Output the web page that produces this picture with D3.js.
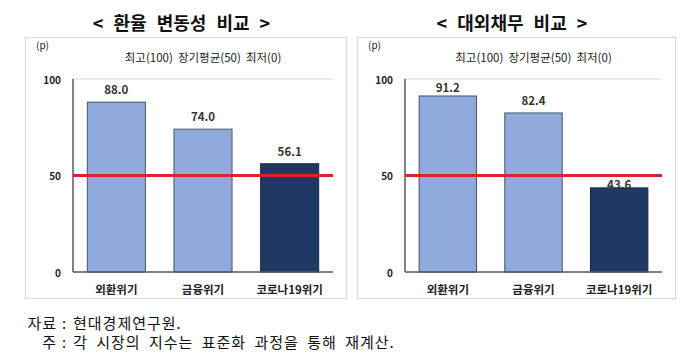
<!DOCTYPE html>
<html>
<head>
<meta charset="utf-8">
<script src="https://cdn.jsdelivr.net/npm/d3@7"></script>
<style>
  body { margin: 0; background: #fff; }
  svg text { font-family: "Noto Sans CJK KR", "Noto Sans", sans-serif; }
</style>
</head>
<body>
<div id="chart"></div>
<script>
const categories = ['외환위기', '금융위기', '코로나19위기'];
const fxVolatility = [88.0, 74.0, 56.1];
const externalDebt = [91.2, 82.4, 43.6];
const yTicks = [0, 50, 100];
const panelTitles = ['< 환율 변동성 비교 >', '< 대외채무 비교 >'];
const legendText = '최고(100)  장기평균(50)  최저(0)';
const noteHeads = ['자료', '주'];
const noteBodies = ['현대경제연구원.', '각 시장의 지수는 표준화 과정을 통해 재계산.'];

const W = 700, H = 362;
const svg = d3.select('#chart').append('svg')
    .attr('width', W)
    .attr('height', H);

function drawPanel(box, plot, title, values) {
  const g = svg.append('g');

  g.append('rect')
      .attr('x', box.x + 0.5).attr('y', box.y + 0.5)
      .attr('width', box.w).attr('height', box.h)
      .attr('fill', '#fff')
      .attr('stroke', '#d9d9d9');

  g.append('text')
      .attr('x', box.x + box.w / 2 - 4)
      .attr('y', 22)
      .attr('text-anchor', 'middle')
      .attr('dominant-baseline', 'central')
      .attr('font-size', 18)
      .attr('font-weight', 'bold')
      .attr('fill', '#111')
      .style('word-spacing', '6px')
      .text(title);

  let x = d3.scaleBand()
      .domain(categories)
      .range([plot.x0, plot.x1])
      .paddingInner(0.33)
      .paddingOuter(0.165);

  let y = d3.scaleLinear()
      .domain([0, 100])
      .range([plot.y0, plot.y1]);

  // gridline at top
  g.append('line')
      .attr('x1', plot.x0).attr('x2', plot.x1)
      .attr('y1', y(100)).attr('y2', y(100))
      .attr('stroke', '#d9d9d9');

  g.append('text')
      .attr('x', box.x + 11)
      .attr('y', box.y + 7)
      .attr('dominant-baseline', 'central')
      .attr('font-size', 10)
      .attr('fill', '#222')
      .text('(p)');

  g.append('text')
      .attr('x', (plot.x0 + plot.x1) / 2)
      .attr('y', 57)
      .attr('text-anchor', 'middle')
      .attr('dominant-baseline', 'central')
      .attr('font-size', 11.5)
      .attr('fill', '#222')
      .attr('xml:space', 'preserve')
      .text(legendText);

  g.append('g')
      .attr('transform', 'translate(' + (plot.x0 - 12) + ',0)')
      .selectAll('text')
      .data(yTicks)
      .enter().append('text')
        .attr('y', function(d) { return y(d); })
        .attr('text-anchor', 'end')
        .attr('dominant-baseline', 'central')
        .attr('font-size', 10)
        .attr('font-weight', 'bold')
        .attr('fill', '#222')
        .text(function(d) { return d; });

  g.selectAll('rect.bar')
      .data(values)
      .enter().append('rect')
        .attr('class', 'bar')
        .attr('x', function(d, i) { return x(categories[i]); })
        .attr('y', function(d) { return y(d); })
        .attr('width', x.bandwidth())
        .attr('height', function(d) { return y(0) - y(d); })
        .attr('fill', function(d, i) { return i === 2 ? '#203864' : '#8faadc'; })
        .attr('stroke', function(d, i) { return i === 2 ? '#17284a' : '#44546a'; })
        .attr('stroke-width', 1);

  // axes lines
  g.append('line')
      .attr('x1', plot.x0).attr('x2', plot.x0)
      .attr('y1', y(0)).attr('y2', y(100))
      .attr('stroke', '#595959').attr('stroke-width', 1.5);
  g.append('line')
      .attr('x1', plot.x0).attr('x2', plot.x1)
      .attr('y1', y(0)).attr('y2', y(0))
      .attr('stroke', '#595959').attr('stroke-width', 1.5);

  // long-term average line
  g.append('line')
      .attr('x1', plot.x0).attr('x2', plot.x1)
      .attr('y1', y(50)).attr('y2', y(50))
      .attr('stroke', '#d9232e').attr('stroke-width', 3);

  g.selectAll('text.val')
      .data(values)
      .enter().append('text')
        .attr('class', 'val')
        .attr('x', function(d, i) { return x(categories[i]) + x.bandwidth() / 2; })
        .attr('y', function(d) {
          let ly = y(d) - 13;
          if (Math.abs(ly - y(50)) < 8) ly = y(50) + 8;
          return Math.max(ly, y(100) + 8);
        })
        .attr('text-anchor', 'middle')
        .attr('dominant-baseline', 'central')
        .attr('font-size', 11.5)
        .attr('font-weight', 'bold')
        .attr('fill', '#333')
        .text(function(d) { return d.toFixed(1); });

  g.selectAll('text.cat')
      .data(categories)
      .enter().append('text')
        .attr('class', 'cat')
        .attr('x', function(d) { return x(d) + x.bandwidth() / 2; })
        .attr('y', 289)
        .attr('text-anchor', 'middle')
        .attr('dominant-baseline', 'central')
        .attr('font-size', 11.5)
        .attr('font-weight', 'bold')
        .attr('fill', '#222')
        .text(function(d) { return d; });
}

drawPanel({x: 25, y: 37, w: 321, h: 261}, {x0: 73, x1: 333, y0: 272, y1: 79}, panelTitles[0], fxVolatility);
drawPanel({x: 357, y: 37, w: 318, h: 261}, {x0: 405, x1: 662, y0: 272, y1: 79}, panelTitles[1], externalDebt);

// source and notes
const noteRows = [322, 341];
noteHeads.forEach(function(head, i) {
  svg.append('text')
      .attr('x', 57).attr('y', noteRows[i])
      .attr('text-anchor', 'end')
      .attr('dominant-baseline', 'central')
      .attr('font-size', 15)
      .attr('fill', '#111')
      .style('letter-spacing', '1px')
      .text(head);
  svg.append('text')
      .attr('x', 64).attr('y', noteRows[i])
      .attr('text-anchor', 'middle')
      .attr('dominant-baseline', 'central')
      .attr('font-size', 15)
      .attr('fill', '#111')
      .text(':');
  svg.append('text')
      .attr('x', 73).attr('y', noteRows[i])
      .attr('dominant-baseline', 'central')
      .attr('font-size', 15)
      .attr('fill', '#111')
      .style('letter-spacing', '1px')
      .style('word-spacing', '4px')
      .text(noteBodies[i]);
});
</script>
</body>
</html>
